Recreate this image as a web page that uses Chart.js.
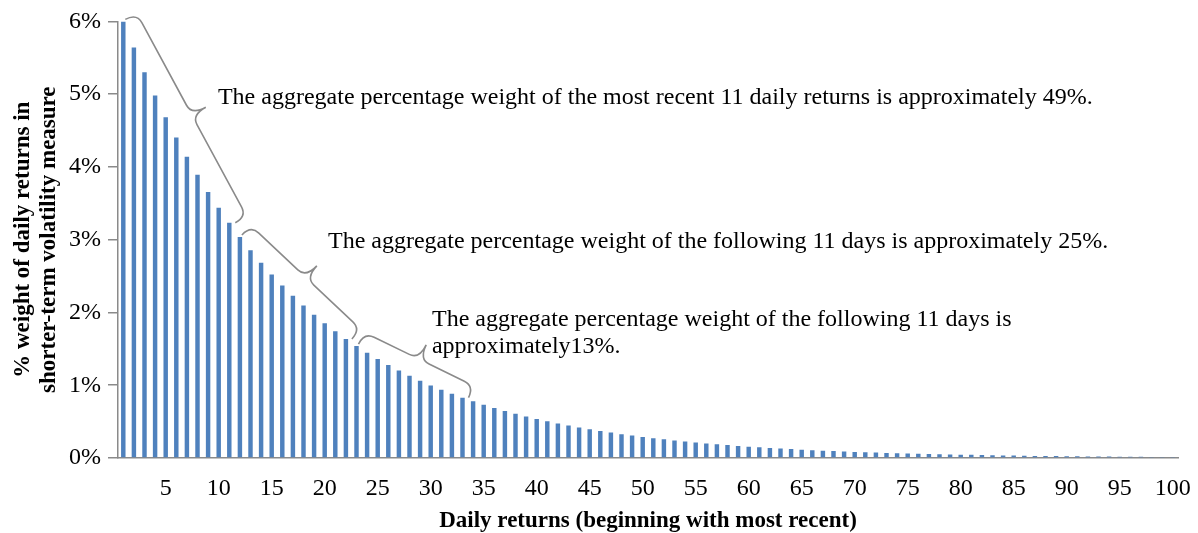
<!DOCTYPE html>
<html>
<head>
<meta charset="utf-8">
<script src="https://cdn.jsdelivr.net/npm/chart.js@4"></script>
<style>
  html, body { margin: 0; padding: 0; background: #fff; }
  #wrap { width: 1198px; height: 533px; position: relative; }
</style>
</head>
<body>
<div id="wrap"><canvas id="weights"></canvas></div>
<script>
// day number 1..100 (1 = most recent)
const days = Array.from({ length: 100 }, (_, i) => String(i + 1));

// weight of each daily return, in percent
const weights = [
  6.000, 5.640, 5.302, 4.983, 4.684, 4.403, 4.139, 3.891, 3.657, 3.438,
  3.232, 3.038, 2.856, 2.684, 2.523, 2.372, 2.230, 2.096, 1.970, 1.852,
  1.741, 1.636, 1.538, 1.446, 1.359, 1.278, 1.201, 1.129, 1.061, 0.998,
  0.938, 0.882, 0.829, 0.779, 0.732, 0.688, 0.647, 0.608, 0.572, 0.537,
  0.505, 0.475, 0.446, 0.420, 0.394, 0.371, 0.349, 0.328, 0.308, 0.290,
  0.272, 0.256, 0.241, 0.226, 0.213, 0.200, 0.188, 0.177, 0.166, 0.156,
  0.147, 0.138, 0.130, 0.122, 0.115, 0.108, 0.101, 0.095, 0.090, 0.084,
  0.079, 0.074, 0.070, 0.066, 0.062, 0.058, 0.055, 0.051, 0.048, 0.045,
  0.043, 0.040, 0.038, 0.035, 0.033, 0.031, 0.029, 0.028, 0.026, 0.024,
  0.023, 0.022, 0.020, 0.019, 0.018, 0.017, 0.016, 0.015, 0.014, 0.013
];

const yTicks = [0, 1, 2, 3, 4, 5, 6];

// groups of 11 days marked with a brace (first and last day number)
const braceGroups = [[1, 11], [12, 22], [23, 33]];

const noteLines = [
  ["The aggregate percentage weight of the most recent 11 daily returns is approximately 49%."],
  ["The aggregate percentage weight of the following 11 days is approximately 25%."],
  ["The aggregate percentage weight of the following 11 days is", "approximately13%."]
];
// where each note starts: [category index, value at baseline of first line]
const noteAnchors = [[8.93, 4.86], [19.31, 2.88], [29.12, 1.82]];

const FONT = "'Liberation Serif', 'Times New Roman', serif";
const GREY = '#8a8a8a';

// curly brace from (x1,y1) to (x2,y2), bulging to the left of the direction of travel
function drawBrace(ctx, x1, y1, x2, y2, side, tip, r) {
  const len = Math.hypot(x2 - x1, y2 - y1);
  ctx.save();
  ctx.translate(x1, y1);
  ctx.rotate(Math.atan2(y2 - y1, x2 - x1));
  const m = len / 2;
  ctx.beginPath();
  ctx.moveTo(0, 0);
  ctx.quadraticCurveTo(0, -side, r, -side);
  ctx.lineTo(m - r, -side);
  ctx.quadraticCurveTo(m, -side, m, -tip);
  ctx.quadraticCurveTo(m, -side, m + r, -side);
  ctx.lineTo(len - r, -side);
  ctx.quadraticCurveTo(len, -side, len, 0);
  ctx.stroke();
  ctx.restore();
}

const bracePlugin = {
  id: 'braces',
  afterDatasetsDraw(chart) {
    const { ctx, scales: { x, y } } = chart;
    ctx.save();
    ctx.strokeStyle = GREY;
    ctx.lineWidth = 1.6;
    braceGroups.forEach(([a, b]) => {
      const x1 = x.getPixelForValue(a - 1) + 2;
      const y1 = y.getPixelForValue(weights[a - 1]) - 2;
      const x2 = x.getPixelForValue(b - 1) + 6;
      const y2 = y.getPixelForValue(weights[b - 1]);
      drawBrace(ctx, x1, y1, x2, y2, 13, 29, 11);
    });

    ctx.fillStyle = '#000';
    ctx.font = '24px ' + FONT;
    ctx.textAlign = 'left';
    ctx.textBaseline = 'alphabetic';
    noteLines.forEach((lines, i) => {
      const px = x.getPixelForValue(noteAnchors[i][0]);
      const py = y.getPixelForValue(noteAnchors[i][1]);
      lines.forEach((t, k) => ctx.fillText(t, px, py + k * 27));
    });
    ctx.restore();
  }
};

new Chart(document.getElementById('weights'), {
  type: 'bar',
  data: {
    labels: days,
    datasets: [{
      data: weights,
      backgroundColor: '#4f81bd',
      barPercentage: 0.42,
      categoryPercentage: 1.0
    }]
  },
  options: {
    responsive: true,
    maintainAspectRatio: false,
    animation: false,
    layout: { padding: { top: 20, right: 20, left: 0, bottom: 0 } },
    plugins: {
      legend: { display: false },
      tooltip: { enabled: false }
    },
    scales: {
      x: {
        grid: { display: false, drawTicks: false },
        border: { display: true, color: GREY, width: 1.5 },
        ticks: {
          autoSkip: false,
          maxRotation: 0,
          padding: 16,
          color: '#000',
          font: { family: FONT, size: 24 },
          callback: function (v) {
            const lbl = this.getLabelForValue(v);
            return Number(lbl) % 5 === 0 ? lbl : '';
          }
        },
        title: {
          display: true,
          text: 'Daily returns (beginning with most recent)',
          color: '#000',
          font: { family: FONT, size: 23, weight: 'bold', lineHeight: 1 },
          padding: { top: 0, bottom: 0 }
        },
        afterFit: s => { s.height = 75; s.paddingLeft = 0; s.paddingRight = 0; }
      },
      y: {
        min: 0,
        max: 6,
        afterBuildTicks: s => { s.ticks = yTicks.map(v => ({ value: v })); },
        grid: { drawOnChartArea: false, drawTicks: true, tickLength: 10, color: GREY, lineWidth: 1.5 },
        border: { display: true, color: GREY, width: 1.5 },
        ticks: {
          padding: 7,
          color: '#000',
          font: { family: FONT, size: 24 },
          callback: v => v + '%'
        },
        title: {
          display: true,
          text: ['% weight of daily returns in', 'shorter-term volatility measure'],
          color: '#000',
          font: { family: FONT, size: 23, weight: 'bold', lineHeight: 1.09 },
          padding: { top: 11, bottom: 0 }
        },
        afterFit: s => { s.width = 118; }
      }
    }
  },
  plugins: [bracePlugin]
});
</script>
</body>
</html>
